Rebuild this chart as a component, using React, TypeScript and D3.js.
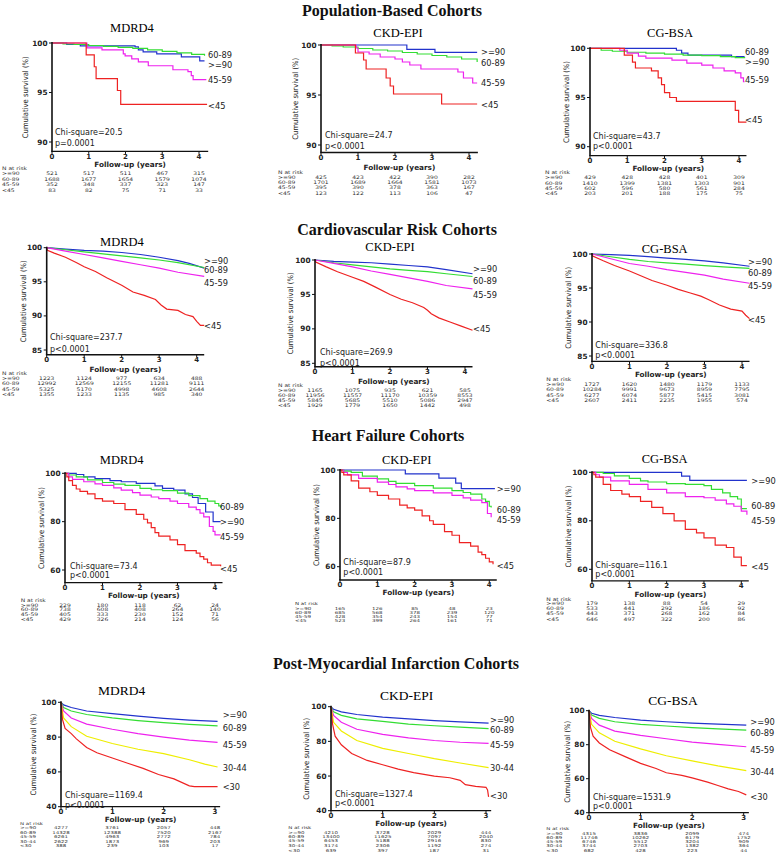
import React from 'react';
import * as d3 from 'd3';

type Pt = [number, number];

// ---------- categories / labels ----------
const groups4 = ['>=90', '60-89', '45-59', '<45'];
const groups5 = ['>=90', '60-89', '45-59', '30-44', '<30'];
const colors4 = ['#2233cc', '#33dd33', '#ee22ee', '#ee2222'];
const colors5 = ['#2233cc', '#33dd33', '#ee22ee', '#eeee00', '#ee2222'];
const rowTitles = ['Population-Based Cohorts', 'Cardiovascular Risk Cohorts', 'Heart Failure Cohorts', 'Post-Myocardial Infarction Cohorts'];
const panelTitles = ['MDRD4', 'CKD-EPI', 'CG-BSA'];
const yTicksPop = [90, 95, 100];
const yTicksCv = [85, 90, 95, 100];
const yTicksHf = [60, 80, 100];
const yTicksMi = [40, 60, 80, 100];
const xTicks4 = [0, 1, 2, 3, 4];
const xTicks3 = [0, 1, 2, 3];

// ---------- statistics ----------
const chiPop = ['Chi-square=20.5', 'Chi-square=24.7', 'Chi-square=43.7'];
const pPop = ['p=0.0001', 'p<0.0001', 'p<0.0001'];
const chiCv = ['Chi-square=237.7', 'Chi-square=269.9', 'Chi-square=336.8'];
const chiHf = ['Chi-square=73.4', 'Chi-square=87.9', 'Chi-square=116.1'];
const chiMi = ['Chi-square=1169.4', 'Chi-square=1327.4', 'Chi-square=1531.9'];
const pAll = 'p<0.0001';

// ---------- survival curves [years, %] in group order ----------
const popMdrd: Pt[][] = [
  [[0, 100], [0.4, 99.85], [0.77, 99.7], [2.26, 99.6], [2.35, 99.3], [2.48, 99.1], [2.85, 98.9], [3.52, 98.6], [4.02, 98.2], [4.15, 98.2]],
  [[0, 100], [0.3, 99.9], [0.6, 99.85], [1.0, 99.75], [1.4, 99.65], [1.8, 99.55], [2.2, 99.45], [2.6, 99.3], [3.0, 99.15], [3.4, 99.0], [3.8, 98.85], [4.15, 98.7]],
  [[0, 100], [0.95, 99.5], [1.36, 99.3], [1.94, 98.9], [1.99, 98.7], [2.17, 98.4], [2.35, 98.1], [2.62, 97.7], [3.29, 97.3], [3.7, 97.1], [3.79, 96.7], [3.84, 96.3], [4.2, 96.3]],
  [[0, 100], [0.93, 98.8], [1.15, 97.6], [1.2, 96.4], [1.78, 95.2], [1.87, 93.8], [4.22, 93.8]],
];
const popMdrdLab = [97.85, 98.8, 96.3, 93.7];

const popCkd: Pt[][] = [
  [[0, 100], [2.32, 99.57], [3.08, 99.27], [4.22, 99.27]],
  [[0, 100], [0.3, 99.9], [0.6, 99.8], [1.0, 99.65], [1.4, 99.5], [1.8, 99.4], [2.2, 99.25], [2.6, 99.1], [3.0, 98.95], [3.4, 98.8], [3.8, 98.6], [4.22, 98.3]],
  [[0, 100], [0.95, 99.7], [1.0, 99.3], [1.3, 99.1], [1.6, 98.8], [2.0, 98.6], [2.2, 98.3], [2.4, 98.0], [2.7, 97.6], [3.7, 97.3], [3.85, 96.7], [4.1, 96.2], [4.22, 96.2]],
  [[0, 100], [0.93, 99.2], [1.15, 98.5], [1.22, 97.6], [1.76, 96.7], [1.87, 95.9], [1.96, 95.1], [3.26, 94.1], [4.22, 94.1]],
];
const popCkdLab = [99.33, 98.2, 96.2, 94.0];

const popCg: Pt[][] = [
  [[0, 100], [2.32, 99.8], [2.46, 99.5], [2.63, 99.3], [3.8, 99.15], [4.15, 99.15]],
  [[0, 100], [0.3, 99.8], [0.6, 99.7], [1.0, 99.6], [1.5, 99.5], [2.0, 99.4], [2.5, 99.3], [3.0, 99.25], [3.5, 99.15], [3.9, 99.05], [4.15, 99.0]],
  [[0, 100], [0.8, 99.8], [1.0, 99.5], [1.3, 99.2], [1.5, 99.0], [2.2, 98.8], [2.6, 98.5], [3.0, 98.3], [3.3, 98.0], [3.6, 97.7], [3.9, 97.5], [4.05, 97.0], [4.12, 96.6], [4.15, 96.6]],
  [[0, 100], [0.92, 99.3], [1.14, 98.6], [1.22, 98.0], [1.65, 97.7], [1.83, 97.0], [1.92, 96.3], [2.0, 95.5], [2.14, 95.0], [2.32, 94.6], [3.9, 93.7], [3.99, 92.5], [4.2, 92.5]],
];
const popCgLab = [98.6, 99.66, 96.8, 92.7];

const cvMdrd: Pt[][] = [
  [[0, 100], [0.5, 99.8], [1, 99.6], [1.5, 99.5], [2, 99.3], [2.5, 99.0], [3, 98.6], [3.5, 98.1], [3.8, 97.7], [4.2, 97.0]],
  [[0, 100], [0.5, 99.7], [1, 99.4], [1.5, 99.1], [2, 98.8], [2.5, 98.5], [3, 98.2], [3.5, 97.8], [4.2, 97.1]],
  [[0, 100], [0.5, 99.5], [1, 99.0], [1.5, 98.5], [2, 98.0], [2.5, 97.5], [3, 97.0], [3.5, 96.4], [4.2, 95.8]],
  [[0, 100], [0.02, 99.6], [0.2, 99.2], [0.5, 98.6], [0.8, 97.8], [1.0, 97.2], [1.3, 96.5], [1.6, 95.6], [2.0, 94.5], [2.3, 93.5], [2.6, 93.0], [2.9, 92.4], [3.05, 91.6], [3.2, 91.0], [3.5, 90.8], [3.7, 90.2], [3.9, 89.9], [4.0, 89.2], [4.1, 88.6], [4.2, 88.6]],
];
const cvMdrdLab = [98.1, 96.7, 94.8, 88.5];

const cvCkd: Pt[][] = [
  [[0, 100], [0.5, 99.8], [1, 99.7], [1.5, 99.6], [2, 99.4], [2.5, 99.2], [3, 99.0], [3.5, 98.6], [4.2, 98.0]],
  [[0, 100], [0.5, 99.6], [1, 99.3], [1.5, 99.0], [2, 98.7], [2.5, 98.5], [3, 98.3], [3.5, 98.0], [4.2, 97.6]],
  [[0, 100], [0.5, 99.5], [1, 99.0], [1.5, 98.4], [2, 97.9], [2.5, 97.4], [3, 96.9], [3.5, 96.3], [4.2, 95.8]],
  [[0, 100], [0.02, 99.7], [0.3, 99.0], [0.6, 98.3], [1, 97.5], [1.3, 96.9], [1.6, 96.1], [2, 95.0], [2.3, 94.3], [2.6, 93.8], [2.9, 93.1], [3.0, 92.7], [3.1, 92.2], [3.3, 91.6], [3.6, 91.0], [3.9, 90.4], [4.2, 89.8]],
];
const cvCkdLab = [98.7, 97.0, 94.9, 90.0];

const cvCg: Pt[][] = [
  [[0, 100], [0.5, 99.9], [1, 99.8], [1.5, 99.6], [2, 99.4], [2.5, 99.2], [3, 99.0], [3.5, 98.7], [4.2, 98.2]],
  [[0, 100], [0.5, 99.6], [1, 99.2], [1.5, 98.9], [2, 98.7], [2.5, 98.5], [3, 98.3], [3.5, 98.1], [4.2, 97.9]],
  [[0, 100], [0.5, 99.3], [1, 98.6], [1.5, 98.2], [2, 97.7], [2.5, 97.3], [3, 96.9], [3.5, 96.3], [4.2, 95.7]],
  [[0, 100], [0.02, 99.7], [0.3, 99.0], [0.6, 98.3], [1, 97.5], [1.3, 96.8], [1.6, 96.1], [2, 95.4], [2.3, 94.8], [2.6, 94.3], [2.9, 93.8], [3.1, 93.3], [3.4, 92.5], [3.7, 91.9], [4.0, 91.6], [4.1, 91.0], [4.2, 90.5]],
];
const cvCgLab = [98.9, 97.3, 95.3, 90.4];

const hfMdrd: Pt[][] = [
  [[0, 100], [0.3, 99.5], [0.5, 98.5], [0.8, 97.8], [1.2, 97.0], [1.5, 96.5], [1.9, 95.8], [2.4, 94.8], [2.6, 93.8], [2.9, 93.0], [3.2, 91.5], [3.4, 90.0], [3.55, 87.5], [3.75, 84.0], [3.95, 80.0], [4.15, 80.0]],
  [[0, 100], [0.1, 99.3], [0.3, 98.5], [0.6, 97.3], [1, 96.2], [1.3, 95.5], [1.6, 95], [2, 93.8], [2.3, 93.2], [2.6, 92.8], [3, 91.8], [3.3, 90.8], [3.6, 89.5], [3.8, 88.5], [4.0, 87.5], [4.1, 86.5], [4.15, 85.8]],
  [[0, 100], [0.1, 98.5], [0.2, 97.5], [0.5, 96.5], [0.8, 95.6], [1, 95], [1.3, 94], [1.5, 93], [1.8, 92], [2, 91], [2.3, 90.2], [2.5, 89.5], [2.8, 88.5], [3, 87.5], [3.3, 86], [3.5, 85], [3.6, 83.5], [3.7, 82], [3.85, 78], [3.95, 76], [4.0, 74.5], [4.15, 74.5]],
  [[0, 100], [0.05, 98.5], [0.1, 97], [0.2, 95], [0.3, 93.5], [0.4, 92.5], [0.6, 91.5], [0.8, 89.5], [1.0, 88.5], [1.3, 87.5], [1.6, 85], [1.9, 83], [2.1, 81], [2.2, 79.5], [2.3, 77.5], [2.4, 75.5], [2.5, 74], [2.8, 72.5], [3.0, 70.5], [3.2, 68], [3.5, 67], [3.6, 65.5], [3.7, 64.5], [3.8, 63], [3.9, 62], [4.15, 61.5]],
];
const hfMdrdLab = [80, 86.2, 73.8, 60.4];

const hfCkd: Pt[][] = [
  [[0, 100], [1.75, 98.4], [2.65, 96.6], [3.1, 94.6], [3.25, 92.3], [4.15, 92.3]],
  [[0, 100], [0.1, 99.5], [0.3, 99], [0.6, 97.5], [1, 96.3], [1.3, 95.3], [1.5, 94.5], [2, 93.5], [2.5, 92.5], [3, 91.5], [3.3, 90.7], [3.5, 90], [3.8, 88], [3.9, 87], [4.0, 85], [4.05, 84.5]],
  [[0, 100], [0.1, 99], [0.2, 98], [0.5, 96.5], [1, 95], [1.3, 94], [1.5, 93], [1.8, 92.2], [2, 91.5], [2.5, 90.5], [3, 89.5], [3.3, 88.5], [3.5, 87.5], [3.8, 86.5], [3.95, 82], [4.05, 80.5]],
  [[0, 100], [0.05, 99], [0.1, 98], [0.3, 95.5], [0.5, 92.5], [0.8, 91], [1.0, 89.5], [1.3, 88], [1.6, 85.5], [1.8, 84.3], [2.0, 83.4], [2.2, 81], [2.4, 79], [2.5, 77.5], [2.8, 74.5], [3.0, 73], [3.2, 70], [3.5, 68.5], [3.7, 66], [3.8, 65], [3.9, 63.5], [4.0, 62], [4.1, 61]],
];
const hfCkdLab = [92.4, 83.7, 79.3, 60.4];

const hfCg: Pt[][] = [
  [[0, 100], [2.4, 98.4], [2.62, 96.7], [4.15, 96.7]],
  [[0, 100], [0.3, 99.5], [0.6, 98.5], [1, 97.5], [1.3, 96.5], [1.5, 96.0], [2, 95.3], [2.5, 95.0], [3, 94.5], [3.2, 93], [3.5, 91.5], [3.7, 90], [3.9, 89], [4.0, 85], [4.15, 85]],
  [[0, 100], [0.1, 99], [0.2, 98], [0.5, 96.5], [1, 95], [1.5, 93], [2, 91.5], [2.5, 90], [3, 89.5], [3.3, 88.5], [3.6, 87], [3.8, 86], [4.0, 84], [4.15, 82.5]],
  [[0, 100], [0.05, 99], [0.1, 98], [0.3, 95], [0.5, 92.5], [0.8, 91], [1.0, 90], [1.3, 88], [1.6, 85.5], [1.9, 83], [2.2, 80], [2.5, 76.5], [2.8, 75], [3.0, 73], [3.3, 70], [3.6, 69], [3.8, 65], [4.0, 61.5], [4.15, 61.5]],
];
const hfCgLab = [96.4, 86.2, 80, 61];

const miMdrd: Pt[][] = [
  [[0, 100], [0.05, 98.5], [0.2, 97], [0.5, 95], [1, 93.5], [1.5, 92], [2, 90.8], [2.5, 89.8], [3.05, 89.0]],
  [[0, 100], [0.05, 97], [0.2, 95], [0.5, 93], [1, 91], [1.5, 89.5], [2, 88.3], [2.5, 87.3], [3.05, 86.5]],
  [[0, 100], [0.05, 95], [0.2, 91], [0.5, 87.5], [1, 84.5], [1.5, 82], [2, 80], [2.5, 78.3], [3.05, 77]],
  [[0, 100], [0.05, 91], [0.2, 86], [0.5, 80.5], [1, 76.3], [1.5, 73], [2, 70.5], [2.5, 67], [2.8, 64.5], [3.05, 62.8]],
  [[0, 100], [0.03, 90], [0.08, 85], [0.2, 82], [0.3, 79], [0.5, 74], [0.7, 71], [1, 68], [1.3, 65], [1.6, 62], [1.9, 58.5], [2.2, 56], [2.5, 52], [2.6, 51.5], [3.05, 51.5]],
];
const miMdrdLab = [92.7, 85.6, 75.4, 62.3, 51.3];

const miCkd: Pt[][] = [
  [[0, 100], [0.05, 98.5], [0.2, 97], [0.5, 95.5], [1, 94], [1.5, 93], [2, 92], [2.5, 91.3], [3.05, 90.5]],
  [[0, 100], [0.05, 97], [0.2, 95], [0.5, 93], [1, 91.5], [1.5, 90], [2, 89], [2.5, 88.2], [3.05, 87.3]],
  [[0, 100], [0.05, 95], [0.2, 91], [0.5, 87], [1, 84], [1.5, 82], [2, 80.5], [2.5, 79.5], [3.05, 78.8]],
  [[0, 100], [0.05, 91], [0.2, 86], [0.5, 80.5], [1, 76], [1.5, 73], [2, 70], [2.5, 67.5], [3.05, 64.8]],
  [[0, 100], [0.03, 90], [0.08, 83], [0.2, 78], [0.4, 73], [0.7, 69], [1, 66.5], [1.3, 64], [1.6, 62], [2, 60], [2.3, 59], [2.5, 57.5], [2.6, 55], [2.8, 54], [3.0, 53.5], [3.03, 52], [3.05, 48]],
];
const miCkdLab = [92.3, 86.9, 78.3, 64.8, 48.5];

const miCg: Pt[][] = [
  [[0, 100], [0.05, 98.5], [0.2, 97.3], [0.5, 96], [1, 94.5], [1.5, 93.5], [2, 92.7], [2.5, 92.1], [3.05, 91.5]],
  [[0, 100], [0.05, 97.5], [0.2, 95.5], [0.5, 93.5], [1, 92], [1.5, 91], [2, 90], [2.5, 89.3], [3.05, 88.6]],
  [[0, 100], [0.05, 95.5], [0.2, 91.5], [0.5, 88], [1, 85.5], [1.5, 83.5], [2, 81.5], [2.5, 80.2], [3.05, 78.8]],
  [[0, 100], [0.05, 92], [0.2, 87], [0.5, 82], [1, 77.5], [1.5, 73.5], [2, 70.5], [2.5, 67.5], [3.05, 64.8]],
  [[0, 100], [0.03, 90], [0.08, 85], [0.2, 81], [0.4, 77], [0.7, 73], [1, 69], [1.3, 66], [1.5, 63.5], [1.8, 62], [2, 60.5], [2.3, 58], [2.5, 56], [2.7, 54], [2.9, 52.5], [3.05, 50.5]],
];
const miCgLab = [93.5, 87, 76.9, 64, 49.4];

// ---------- numbers at risk ----------
const riskPopMdrd = [[521, 517, 511, 467, 315], [1688, 1677, 1654, 1579, 1074], [352, 348, 337, 323, 147], [83, 82, 75, 71, 33]];
const riskPopCkd = [[425, 423, 422, 390, 282], [1701, 1689, 1664, 1581, 1073], [395, 390, 378, 363, 167], [123, 122, 113, 106, 47]];
const riskPopCg = [[429, 428, 428, 401, 309], [1410, 1399, 1381, 1303, 901], [602, 596, 580, 561, 284], [203, 201, 188, 175, 75]];
const riskCvMdrd = [[1223, 1124, 977, 634, 488], [12992, 12569, 12155, 11281, 9111], [5325, 5170, 4998, 4608, 2644], [1355, 1233, 1135, 985, 340]];
const riskCvCkd = [[1165, 1075, 935, 621, 585], [11956, 11557, 11170, 10359, 8553], [5845, 5685, 5510, 5086, 2947], [1929, 1779, 1650, 1442, 498]];
const riskCvCg = [[1727, 1620, 1480, 1179, 1133], [10284, 9991, 9673, 8959, 7795], [6277, 6074, 5877, 5415, 3081], [2607, 2411, 2235, 1955, 574]];
const riskHfMdrd = [[229, 180, 118, 62, 24], [738, 608, 408, 264, 140], [405, 333, 230, 152, 71], [429, 326, 214, 124, 56]];
const riskHfCkd = [[165, 126, 85, 48, 23], [685, 568, 378, 239, 120], [428, 354, 243, 154, 77], [523, 399, 264, 161, 71]];
const riskHfCg = [[179, 138, 88, 54, 29], [533, 441, 292, 186, 92], [443, 371, 268, 162, 84], [646, 497, 322, 200, 86]];
const riskMiMdrd = [[4277, 3761, 2057, 448], [14328, 12388, 7520, 2167], [6261, 4963, 2772, 784], [2622, 1873, 969, 203], [388, 239, 103, 17]];
const riskMiCkd = [[4210, 3728, 2029, 444], [13400, 11625, 7097, 2040], [6453, 5188, 2916, 830], [3174, 2306, 1192, 274], [639, 397, 187, 31]];
const riskMiCg = [[4315, 3836, 2099, 474], [11746, 10262, 6179, 1752], [6746, 5512, 3204, 909], [3744, 2703, 1382, 364], [682, 428, 223, 44]];

// ---------- layout ----------
interface Spec {
  title: string; curves: Pt[][]; labY: number[]; risk: number[][]; groups: string[]; colors: string[];
  chi: string; p: string; yTicks: number[]; xTicks: number[]; step: boolean;
  x0: number; x1: number; t1: number; tEnd: number; yTop: number; yLowVal: number; yLowPx: number; yMin: number;
  titleX: number; titleY: number; titleSize: number; chiX: number; chiY: number; pY: number; followY: number;
  riskX: number; riskHeadY: number; riskRows: number[]; riskSize: number; riskSquash: number; labX: number; ylabX: number;
}

const base = (o: Partial<Spec>): Spec => ({ riskSquash: 0.8, ...o } as Spec);

const specs: Spec[] = [
  base({ title: panelTitles[0], curves: popMdrd, labY: popMdrdLab, risk: riskPopMdrd, groups: groups4, colors: colors4, chi: chiPop[0], p: pPop[0], yTicks: yTicksPop, xTicks: xTicks4, step: true,
    x0: 52, x1: 199, t1: 4, tEnd: 4.25, yTop: 43, yLowVal: 90, yLowPx: 142, yMin: 89.05,
    titleX: 132, titleY: 28, titleSize: 12.5, chiX: 55, chiY: 132, pY: 143, followY: 164,
    riskX: 2, riskHeadY: 168, riskRows: [173.5, 179, 184.5, 190.5], riskSize: 6, labX: 208, ylabX: 25 }),
  base({ title: panelTitles[1], curves: popCkd, labY: popCkdLab, risk: riskPopCkd, groups: groups4, colors: colors4, chi: chiPop[1], p: pPop[1], yTicks: yTicksPop, xTicks: xTicks4, step: true,
    x0: 321, x1: 469, t1: 4, tEnd: 4.24, yTop: 45, yLowVal: 90, yLowPx: 145, yMin: 89.25,
    titleX: 398, titleY: 33, titleSize: 12.5, chiX: 325, chiY: 135, pY: 146, followY: 167,
    riskX: 278, riskHeadY: 172, riskRows: [177, 182, 187.5, 193], riskSize: 6, labX: 481, ylabX: 295 }),
  base({ title: panelTitles[2], curves: popCg, labY: popCgLab, risk: riskPopCg, groups: groups4, colors: colors4, chi: chiPop[2], p: pPop[2], yTicks: yTicksPop, xTicks: xTicks4, step: true,
    x0: 590, x1: 739, t1: 4, tEnd: 4.2, yTop: 48.3, yLowVal: 90, yLowPx: 146.7, yMin: 89.1,
    titleX: 670, titleY: 33, titleSize: 12.5, chiX: 593, chiY: 136, pY: 146, followY: 168,
    riskX: 545, riskHeadY: 172, riskRows: [177, 183, 188, 193], riskSize: 6, labX: 745, ylabX: 566 }),

  base({ title: panelTitles[0], curves: cvMdrd, labY: cvMdrdLab, risk: riskCvMdrd, groups: groups4, colors: colors4, chi: chiCv[0], p: pAll, yTicks: yTicksCv, xTicks: xTicks4, step: false,
    x0: 46.7, x1: 196.7, t1: 4, tEnd: 4.2, yTop: 247.7, yLowVal: 85, yLowPx: 350, yMin: 84.3,
    titleX: 122, titleY: 242, titleSize: 12.5, chiX: 50, chiY: 337, pY: 349, followY: 369,
    riskX: 2, riskHeadY: 373, riskRows: [378, 383, 389, 394], riskSize: 6, labX: 204, ylabX: 23 }),
  base({ title: panelTitles[1], curves: cvCkd, labY: cvCkdLab, risk: riskCvCkd, groups: groups4, colors: colors4, chi: chiCv[1], p: pAll, yTicks: yTicksCv, xTicks: xTicks4, step: false,
    x0: 315, x1: 465, t1: 4, tEnd: 4.2, yTop: 260, yLowVal: 85, yLowPx: 363.3, yMin: 84.5,
    titleX: 390, titleY: 246.7, titleSize: 12.5, chiX: 320, chiY: 351.7, pY: 362.7, followY: 381.7,
    riskX: 278, riskHeadY: 385.7, riskRows: [390.7, 395.7, 400.7, 405.7], riskSize: 6, labX: 473, ylabX: 290.7 }),
  base({ title: panelTitles[2], curves: cvCg, labY: cvCgLab, risk: riskCvCg, groups: groups4, colors: colors4, chi: chiCv[2], p: pAll, yTicks: yTicksCv, xTicks: xTicks4, step: false,
    x0: 592, x1: 742, t1: 4, tEnd: 4.2, yTop: 254, yLowVal: 85, yLowPx: 356, yMin: 84.2,
    titleX: 664.7, titleY: 248.3, titleSize: 12.5, chiX: 595.3, chiY: 345, pY: 355, followY: 374,
    riskX: 546.3, riskHeadY: 379, riskRows: [384.3, 389.3, 395, 400], riskSize: 6, labX: 748, ylabX: 568 }),

  base({ title: panelTitles[0], curves: hfMdrd, labY: hfMdrdLab, risk: riskHfMdrd, groups: groups4, colors: colors4, chi: chiHf[0], p: pAll, yTicks: yTicksHf, xTicks: xTicks4, step: true,
    x0: 65, x1: 215, t1: 4, tEnd: 4.2, yTop: 473.3, yLowVal: 60, yLowPx: 570, yMin: 54.8,
    titleX: 121.7, titleY: 459.3, titleSize: 12.5, chiX: 70, chiY: 565.7, pY: 575, followY: 595.5,
    riskX: 20.7, riskHeadY: 600.5, riskRows: [605, 609.5, 614.3, 619.3], riskSize: 6, labX: 220, ylabX: 41.7 }),
  base({ title: panelTitles[1], curves: hfCkd, labY: hfCkdLab, risk: riskHfCkd, groups: groups4, colors: colors4, chi: chiHf[1], p: pAll, yTicks: yTicksHf, xTicks: xTicks4, step: true,
    x0: 340, x1: 489.3, t1: 4, tEnd: 4.2, yTop: 470, yLowVal: 60, yLowPx: 566.7, yMin: 54.5,
    titleX: 406.7, titleY: 460, titleSize: 12.5, chiX: 343.3, chiY: 561.7, pY: 571.7, followY: 592.7,
    riskX: 295, riskHeadY: 604, riskRows: [608.3, 612.7, 616.7, 621], riskSize: 5.5, riskSquash: 0.75, labX: 496.7, ylabX: 316.7 }),
  base({ title: panelTitles[2], curves: hfCg, labY: hfCgLab, risk: riskHfCg, groups: groups4, colors: colors4, chi: chiHf[2], p: pAll, yTicks: yTicksHf, xTicks: xTicks4, step: true,
    x0: 592, x1: 741.3, t1: 4, tEnd: 4.2, yTop: 472.3, yLowVal: 60, yLowPx: 569.3, yMin: 55.2,
    titleX: 664.7, titleY: 458.3, titleSize: 12.5, chiX: 595.3, chiY: 565, pY: 574.3, followY: 594,
    riskX: 546.3, riskHeadY: 599, riskRows: [603.3, 608.3, 613.3, 619.3], riskSize: 6, labX: 751.3, ylabX: 568 }),

  base({ title: panelTitles[0], curves: miMdrd, labY: miMdrdLab, risk: riskMiMdrd, groups: groups5, colors: colors5, chi: chiMi[0], p: pAll, yTicks: yTicksMi, xTicks: xTicks3, step: false,
    x0: 61, x1: 215, t1: 3, tEnd: 3.1, yTop: 702.3, yLowVal: 40, yLowPx: 806.7, yMin: 40,
    titleX: 121.7, titleY: 690, titleSize: 13.5, chiX: 65, chiY: 795, pY: 805, followY: 819,
    riskX: 20, riskHeadY: 823.5, riskRows: [828, 832.5, 836.9, 841.2, 845.7], riskSize: 5.5, riskSquash: 0.72, labX: 222.7, ylabX: 33.3 }),
  base({ title: panelTitles[1], curves: miCkd, labY: miCkdLab, risk: riskMiCkd, groups: groups5, colors: colors5, chi: chiMi[1], p: pAll, yTicks: yTicksMi, xTicks: xTicks3, step: false,
    x0: 331, x1: 486, t1: 3, tEnd: 3.1, yTop: 706.7, yLowVal: 40, yLowPx: 810.7, yMin: 40,
    titleX: 406.7, titleY: 695, titleSize: 13.5, chiX: 335, chiY: 794, pY: 803.3, followY: 823,
    riskX: 288.3, riskHeadY: 827.9, riskRows: [832.3, 836.7, 841, 845.7, 850.7], riskSize: 5.5, riskSquash: 0.72, labX: 490, ylabX: 306.7 }),
  base({ title: panelTitles[2], curves: miCg, labY: miCgLab, risk: riskMiCg, groups: groups5, colors: colors5, chi: chiMi[2], p: pAll, yTicks: yTicksMi, xTicks: xTicks3, step: false,
    x0: 589, x1: 743.7, t1: 3, tEnd: 3.1, yTop: 710.7, yLowVal: 40, yLowPx: 812.7, yMin: 40,
    titleX: 673, titleY: 700, titleSize: 13.5, chiX: 593, chiY: 796.7, pY: 805.7, followY: 825,
    riskX: 546.3, riskHeadY: 829, riskRows: [833.3, 837.5, 841.8, 846.1, 850.5], riskSize: 5.5, riskSquash: 0.72, labX: 750.3, ylabX: 567.3 }),
];

const rowTitlePos = [[392, 10], [397, 229], [388, 435], [396, 663]];

const SANS = '"DejaVu Sans", "Liberation Sans", sans-serif';
const NARROW = '"Liberation Sans Narrow", "DejaVu Sans Condensed", sans-serif';
const SERIF = '"Liberation Serif", "Times New Roman", serif';

function Panel({ s }: { s: Spec }) {
  const x = d3.scaleLinear().domain([0, s.t1]).range([s.x0, s.x1]);
  const y = d3.scaleLinear().domain([s.yLowVal, 100]).range([s.yLowPx, s.yTop]);
  const line = d3.line<Pt>().x(d => x(d[0])).y(d => y(d[1])).curve(s.step ? d3.curveStepAfter : d3.curveLinear);
  const axisY = y(s.yMin);
  const mid = (y(100) + axisY) / 2;
  const sq = s.riskSquash;
  const riskText = (key: string | number, tx: number, ty: number, str: string | number, anchor: string) => (
    <text key={key} transform={`translate(${tx},${ty}) scale(1,${sq})`} dy="0.35em" textAnchor={anchor}
      fontFamily={SANS} fontSize={s.riskSize} fill="#333">{str}</text>
  );
  return (
    <g>
      <text x={s.titleX} y={s.titleY} dy="0.35em" textAnchor="middle" fontFamily={SERIF} fontSize={s.titleSize}>{s.title}</text>
      {s.curves.map((c, i) => (
        <path key={i} d={line(c) || ''} fill="none" stroke={s.colors[i]} strokeWidth={1.2} />
      ))}
      {/* y axis */}
      <line x1={s.x0} x2={s.x0} y1={axisY} y2={y(100) - 1} stroke="#111" strokeWidth={1.6} />
      {s.yTicks.map(t => (
        <g key={t}>
          <line x1={s.x0 - 3} x2={s.x0} y1={y(t)} y2={y(t)} stroke="#111" strokeWidth={1} />
          <text x={s.x0 - 4.5} y={y(t)} dy="0.35em" textAnchor="end" fontFamily={SANS} fontWeight={700} fontSize={7.3} fill="#222">{t}</text>
        </g>
      ))}
      {/* x axis */}
      <line x1={s.x0 - 0.8} x2={x(s.tEnd)} y1={axisY} y2={axisY} stroke="#111" strokeWidth={1.3} />
      {s.xTicks.map(t => (
        <g key={t}>
          <line x1={x(t)} x2={x(t)} y1={axisY} y2={axisY + 2.5} stroke="#111" strokeWidth={1} />
          <text x={x(t)} y={axisY + 4.8} dy="0.35em" textAnchor="middle" fontFamily={SANS} fontWeight={700} fontSize={7} fill="#222">{t}</text>
        </g>
      ))}
      <text x={(s.x0 + x(s.tEnd)) / 2} y={s.followY} dy="0.35em" textAnchor="middle" fontFamily={SANS} fontWeight={700} fontSize={7.3} fill="#222">Follow-up (years)</text>
      <text transform={`translate(${s.ylabX},${mid}) rotate(-90)`} dy="0.35em" textAnchor="middle" fontFamily={NARROW} fontSize={7.6} fill="#222">Cumulative survival (%)</text>
      <text x={s.chiX} y={s.chiY} dy="0.35em" fontFamily={SANS} fontSize={8} fill="#222">{s.chi}</text>
      <text x={s.chiX} y={s.pY} dy="0.35em" fontFamily={SANS} fontSize={8} fill="#222">{s.p}</text>
      {s.groups.map((g, i) => (
        <text key={g} x={s.labX} y={y(s.labY[i])} dy="0.35em" fontFamily={NARROW} fontSize={9.2} fill="#222">{g}</text>
      ))}
      {/* numbers at risk */}
      {riskText('head', s.riskX, s.riskHeadY, 'N at risk', 'start')}
      {s.risk.map((row, i) => (
        <g key={i}>
          {riskText('g' + i, s.riskX, s.riskRows[i], s.groups[i], 'start')}
          {row.map((v, j) => riskText(j, x(s.xTicks[j]), s.riskRows[i], v, 'middle'))}
        </g>
      ))}
    </g>
  );
}

export default function App() {
  return (
    <svg width={778} height={861} style={{ position: 'absolute', left: 0, top: 0, background: '#fff' }}>
      <rect width={778} height={861} fill="#fff" />
      {rowTitles.map((t, i) => (
        <text key={t} x={rowTitlePos[i][0]} y={rowTitlePos[i][1]} dy="0.35em" textAnchor="middle" fontFamily={SERIF} fontWeight={700} fontSize={16} fill="#111">{t}</text>
      ))}
      {specs.map((s, i) => <Panel key={i} s={s} />)}
    </svg>
  );
}
